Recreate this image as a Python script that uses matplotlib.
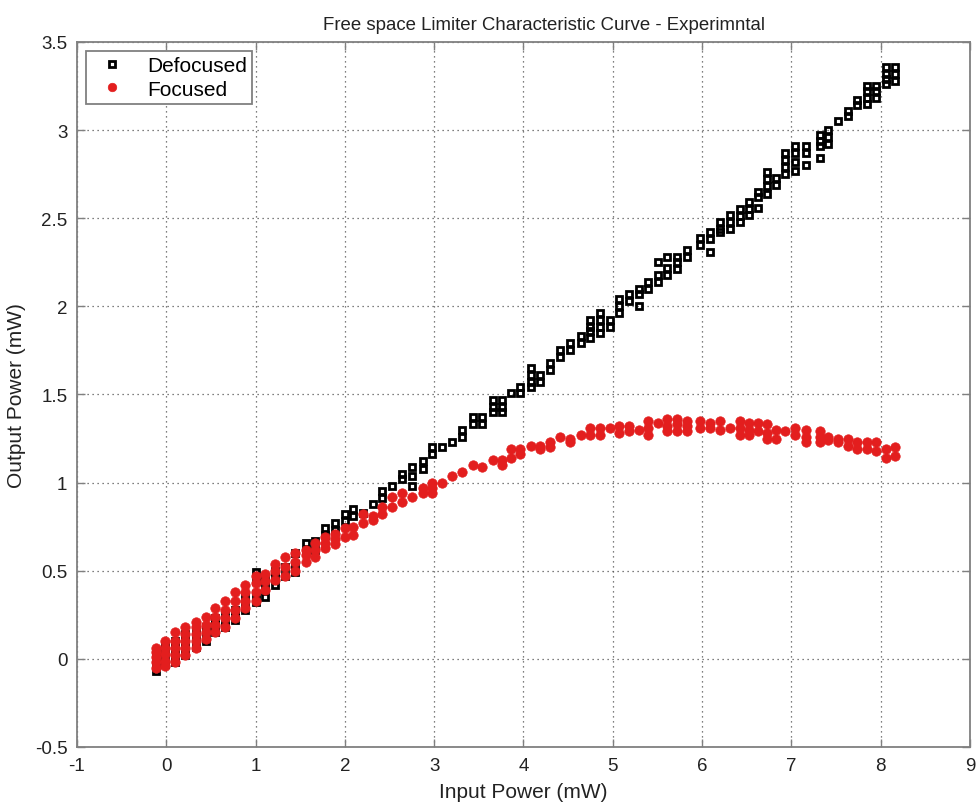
import matplotlib
matplotlib.use("Agg")
import matplotlib.pyplot as plt
import numpy as np

defoc_x = [-0.12, -0.01, 0.10, 0.21, 0.33, 0.44, 0.55, 0.66, 0.77, 0.88,
           1.00, 1.11, 1.22, 1.33, 1.44, 1.56, 1.67, 1.78, 1.89, 2.00,
           2.09, 2.20, 2.32, 2.42, 2.53, 2.64, 2.75, 2.87, 2.98, 3.09,
           3.20, 3.31, 3.43, 3.54, 3.66, 3.76, 3.86, 3.96, 4.08, 4.19,
           4.30, 4.41, 4.52, 4.64, 4.75, 4.86, 4.97, 5.07, 5.18, 5.29,
           5.40, 5.51, 5.61, 5.72, 5.83, 5.98, 6.09, 6.20, 6.31, 6.42,
           6.53, 6.63, 6.73, 6.83, 6.93, 7.04, 7.16, 7.32, 7.41, 7.52,
           7.63, 7.74, 7.85, 7.95, 8.06, 8.16]
defoc_y = [[-0.07, -0.03, 0.01, 0.04], [-0.03, 0.01, 0.05, 0.08],
           [-0.02, 0.02, 0.06, 0.10], [0.02, 0.06, 0.10, 0.14],
           [0.07, 0.11, 0.15], [0.10, 0.14, 0.18],
           [0.15, 0.19, 0.23], [0.18, 0.22, 0.26],
           [0.22, 0.25, 0.28], [0.28, 0.32, 0.35],
           [0.32, 0.37, 0.44, 0.49], [0.35, 0.40, 0.45],
           [0.42, 0.46, 0.50], [0.47, 0.52],
           [0.49, 0.54, 0.60], [0.61, 0.66],
           [0.62, 0.67], [0.70, 0.74],
           [0.73, 0.77], [0.78, 0.82],
           [0.81, 0.85], [0.83], [0.88], [0.91, 0.95], [0.98],
           [1.02, 1.05], [0.98, 1.04, 1.09], [1.08, 1.12], [1.16, 1.20],
           [1.20], [1.23], [1.26, 1.30], [1.33, 1.37], [1.33, 1.37],
           [1.40, 1.43, 1.47], [1.40, 1.43, 1.47], [1.51], [1.51, 1.54],
           [1.54, 1.57, 1.61, 1.65], [1.57, 1.61], [1.64, 1.68], [1.71, 1.75],
           [1.75, 1.79], [1.79, 1.83], [1.82, 1.86, 1.88, 1.92],
           [1.85, 1.88, 1.92, 1.96], [1.88, 1.92], [1.96, 2.00, 2.04],
           [2.03, 2.07], [2.00, 2.07, 2.10], [2.10, 2.14],
           [2.14, 2.18, 2.25], [2.18, 2.22, 2.28], [2.21, 2.25, 2.28],
           [2.28, 2.32], [2.35, 2.39], [2.31, 2.38, 2.42],
           [2.42, 2.44, 2.48], [2.44, 2.48, 2.52], [2.48, 2.51, 2.55],
           [2.52, 2.55, 2.59], [2.56, 2.62, 2.65],
           [2.64, 2.68, 2.72, 2.76], [2.69, 2.73],
           [2.75, 2.79, 2.83, 2.87], [2.77, 2.82, 2.87, 2.91],
           [2.80, 2.87, 2.91], [2.84, 2.91, 2.94, 2.97], [2.92, 2.96, 3.00],
           [3.05], [3.08, 3.11], [3.14, 3.17], [3.15, 3.18, 3.22, 3.25],
           [3.18, 3.22, 3.25], [3.26, 3.29, 3.32, 3.36], [3.28, 3.32, 3.36]]

foc_x = defoc_x
foc_y = [[-0.05, -0.02, 0.01, 0.04, 0.06], [-0.04, -0.01, 0.03, 0.06, 0.10],
         [-0.02, 0.02, 0.06, 0.10, 0.15], [0.02, 0.06, 0.10, 0.14, 0.18],
         [0.06, 0.10, 0.14, 0.18, 0.21], [0.11, 0.15, 0.19, 0.24],
         [0.15, 0.19, 0.24, 0.29], [0.18, 0.23, 0.28, 0.33],
         [0.23, 0.28, 0.33, 0.38], [0.29, 0.33, 0.38, 0.42],
         [0.33, 0.38, 0.43, 0.47], [0.39, 0.44, 0.48],
         [0.45, 0.50, 0.54], [0.47, 0.52, 0.58],
         [0.50, 0.55, 0.60], [0.55, 0.59, 0.62],
         [0.58, 0.62, 0.66], [0.63, 0.66, 0.69],
         [0.65, 0.68, 0.71], [0.69, 0.74],
         [0.70, 0.75], [0.77, 0.82], [0.79, 0.81], [0.82, 0.86],
         [0.86, 0.92], [0.89, 0.94], [0.92], [0.94, 0.97],
         [0.94, 0.97, 1.00], [1.00], [1.04], [1.06], [1.10], [1.09],
         [1.13], [1.10, 1.13], [1.14, 1.19], [1.16, 1.19], [1.21],
         [1.19, 1.21], [1.20, 1.23], [1.26],
         [1.23, 1.25], [1.27], [1.27, 1.31], [1.27, 1.31], [1.31],
         [1.28, 1.32], [1.29, 1.32], [1.30], [1.27, 1.31, 1.35], [1.34],
         [1.29, 1.32, 1.36], [1.29, 1.33, 1.36], [1.29, 1.32, 1.35],
         [1.31, 1.35], [1.31, 1.34], [1.30, 1.35], [1.31],
         [1.27, 1.31, 1.35], [1.27, 1.30, 1.34], [1.29, 1.34],
         [1.25, 1.28, 1.33], [1.25, 1.30], [1.29], [1.27, 1.31],
         [1.23, 1.26, 1.30], [1.23, 1.26, 1.29], [1.24, 1.26],
         [1.23, 1.25], [1.21, 1.25], [1.19, 1.23], [1.19, 1.23],
         [1.18, 1.23], [1.14, 1.19], [1.15, 1.20]]

x_ticks = np.arange(-1, 10, 1)
y_ticks = np.arange(-0.5, 3.51, 0.5)


def flatten(xs, ys):
    px = np.concatenate([[x] * len(y) for x, y in zip(xs, ys)])
    py = np.concatenate([np.asarray(y, float) for y in ys])
    return px, py


dx, dy = flatten(defoc_x, defoc_y)
fx, fy = flatten(foc_x, foc_y)

plt.rcParams['font.family'] = ['Liberation Sans', 'DejaVu Sans']
plt.rcParams['font.size'] = 13

fig = plt.figure(figsize=(9.77, 8.03), dpi=100)
ax = fig.add_axes([0.0788, 0.0685, 0.914, 0.878])

ax.plot(dx, dy, 's', ms=4.8, mfc='none', mec='black', mew=2.0,
        label='Defocused', zorder=3)
ax.plot(fx, fy, 'o', ms=6.8, mfc='#e31e1e', mec='#e31e1e', mew=0.5,
        label='Focused', zorder=4)

ax.set_xlim(-1, 9)
ax.set_ylim(-0.5, 3.5)
ax.set_xticks(x_ticks)
ax.set_yticks(y_ticks)
ax.set_xticklabels([f'{v:g}' for v in x_ticks])
ax.set_yticklabels([f'{v:g}' for v in y_ticks])

ax.grid(True, color='#555555', ls=(0, (1, 3)), lw=0.9)
ax.tick_params(direction='in', length=6, width=1, top=True, right=True,
               colors='#808080', labelcolor='#222222', labelsize=13.5,
               pad=7)
for s in ax.spines.values():
    s.set_color('#808080')
    s.set_linewidth(1.3)

ax.set_title('Free space Limiter Characteristic Curve - Experimntal',
             fontsize=13.4, color='#222222', pad=9, x=0.523)
ax.set_xlabel('Input Power (mW)', fontsize=15, color='#222222', labelpad=6)
ax.set_ylabel('Output Power (mW)', fontsize=15, color='#222222', labelpad=6)

leg = ax.legend(loc='upper left', bbox_to_anchor=(0.010, 0.987),
                borderaxespad=0, fancybox=False, framealpha=1,
                edgecolor='#808080', fontsize=15, handletextpad=0.7,
                borderpad=0.25, labelspacing=0.2, markerscale=0.9)
leg.get_frame().set_linewidth(1.3)

fig.savefig('out.png', dpi=100)
